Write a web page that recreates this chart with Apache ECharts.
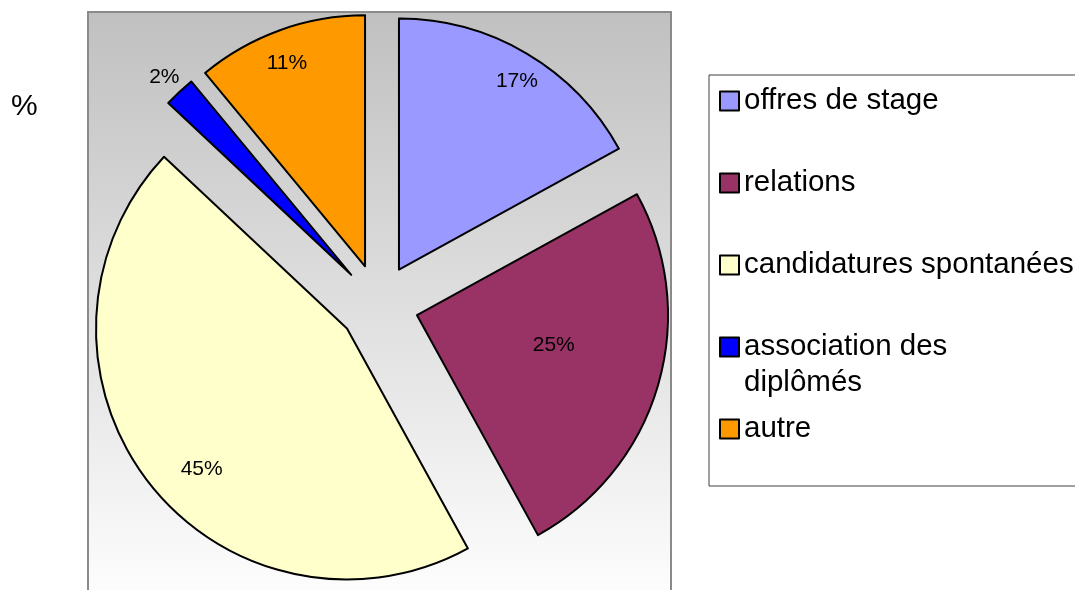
<!DOCTYPE html>
<html>
<head>
<meta charset="utf-8">
<script src="https://cdn.jsdelivr.net/npm/echarts@6/dist/echarts.min.js"></script>
<style>
  html, body { margin: 0; padding: 0; background: #ffffff; }
  #chart { width: 1075px; height: 590px; }
</style>
</head>
<body>
<div id="chart"></div>
<script>
// Ways the internship was found (%)
const categories = ['offres de stage', 'relations', 'candidatures spontanées', 'association des diplômés', 'autre'];
const shares = [17, 25, 45, 2, 11];
// legend wording, wrapped where the legend box breaks it (leading blank line keeps
// the first line level with its swatch)
const legendTexts = ['offres de stage', 'relations', 'candidatures spontanées', '\nassociation des\ndiplômés', 'autre'];
const axisTitle = '%';

const colors = ['#9999ff', '#993366', '#ffffcc', '#0000ff', '#ff9900'];
const FONT = '"Liberation Sans", Arial, sans-serif';

// pie geometry
const CX = 378.6, CY = 304, R = 251, EXPLODE = 40;
// label distance from the tip of each exploded slice, and a small angular nudge (deg)
const labelRadius = [222, 140, 202, 272, 218];
const labelTurn = [1.5, -3.8, -6.2, -0.2, -1.2];

// legend rows
const LEGEND_FIRST = 101, LEGEND_STEP = 82, LEGEND_LINE = 36;

const total = shares.reduce((a, b) => a + b, 0);
let acc = 0;
const midDeg = shares.map(v => { const m = (acc + v / 2) / total * 360; acc += v; return m; });

const chart = echarts.init(document.getElementById('chart'), null, { renderer: 'canvas' });

const pieData = categories.map((name, i) => ({
  name: name,
  value: shares[i],
  selected: true,
  itemStyle: { color: colors[i] }
}));

const legends = categories.map((name, i) => {
  const c = LEGEND_FIRST + i * LEGEND_STEP;
  const lines = legendTexts[i].split('\n').length;
  return {
    data: [name],
    orient: 'vertical',
    left: 719,
    top: c - (LEGEND_LINE * lines) / 2,
    padding: 0,
    itemWidth: 19,
    itemHeight: 19,
    icon: 'rect',
    selectedMode: false,
    itemStyle: { borderColor: '#000000', borderWidth: 2 },
    formatter: () => legendTexts[i],
    textStyle: { fontFamily: FONT, fontSize: 29.5, color: '#000000', lineHeight: LEGEND_LINE }
  };
});

const option = {
  animation: false,
  backgroundColor: '#ffffff',
  title: {
    text: axisTitle,
    left: 11,
    top: 92,
    padding: 0,
    textStyle: { fontFamily: FONT, fontSize: 30, fontWeight: 'normal', color: '#000000' }
  },
  graphic: [
    {
      type: 'rect',
      silent: true,
      z: 0,
      shape: { x: 88, y: 12, width: 583, height: 600 },
      style: {
        fill: new echarts.graphic.LinearGradient(0, 0, 0, 1, [
          { offset: 0, color: '#c0c0c0' },
          { offset: 1, color: '#ffffff' }
        ]),
        stroke: '#8a8a8a',
        lineWidth: 2
      }
    },
    {
      type: 'rect',
      silent: true,
      z: 0,
      shape: { x: 709, y: 75, width: 420, height: 411 },
      style: { fill: '#ffffff', stroke: '#404040', lineWidth: 1 }
    }
  ],
  legend: legends,
  series: [{
    type: 'pie',
    center: [CX, CY],
    radius: [0, R],
    startAngle: 90,
    clockwise: true,
    selectedMode: 'multiple',
    selectedOffset: EXPLODE,
    avoidLabelOverlap: false,
    minAngle: 0,
    data: pieData,
    itemStyle: { borderColor: '#000000', borderWidth: 2 },
    select: {
      itemStyle: { borderColor: '#000000', borderWidth: 2 },
      label: { color: '#000000' }
    },
    emphasis: { disabled: true },
    label: {
      show: true,
      position: 'inside',
      formatter: '{c}%',
      fontFamily: FONT,
      fontSize: 21,
      color: '#000000'
    },
    labelLine: { show: false },
    labelLayout: function (params) {
      const i = params.dataIndex;
      const t0 = midDeg[i] * Math.PI / 180;
      const t1 = (midDeg[i] + labelTurn[i]) * Math.PI / 180;
      const base = R / 2 + 3;
      return {
        dx: labelRadius[i] * Math.sin(t1) - base * Math.sin(t0),
        dy: -labelRadius[i] * Math.cos(t1) + base * Math.cos(t0)
      };
    }
  }]
};

chart.setOption(option);
</script>
</body>
</html>
